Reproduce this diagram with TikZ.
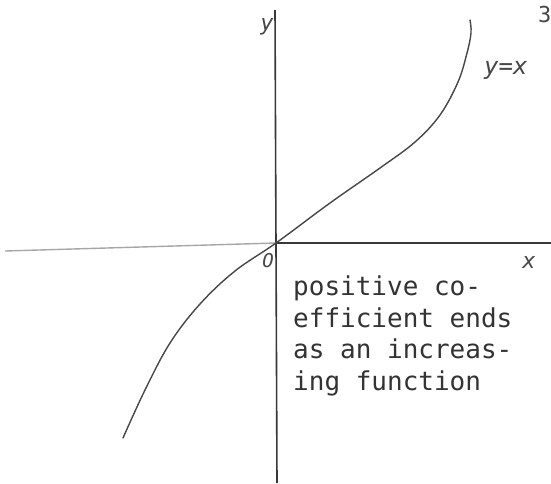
\documentclass[tikz,border=0pt]{standalone}
\usepackage{fontspec}
\newfontfamily\monofont{DejaVu Sans Mono}
\begin{document}
\begin{tikzpicture}[x=1pt,y=-1pt]
\useasboundingbox (0,0) rectangle (551,483);
\tikzset{
  axisline/.style={line width=1.6pt, draw=black!78},
  faintaxis/.style={line width=1.4pt, draw=black!35},
  curveline/.style={line width=1.4pt, draw=black!72, line cap=round},
  lbl/.style={font=\monofont\fontsize{22}{22}\selectfont\itshape, text=black!72, inner sep=0pt},
  note/.style={font=\monofont\fontsize{26}{31.5}\selectfont, text=black!80, inner sep=0pt, align=left}
}
\coordinate (O) at (276,243);
\coordinate (ytop) at (275,10);
\coordinate (ybot) at (277,483);
\coordinate (xleft) at (5,251);
\coordinate (xright) at (551,243);
\draw[axisline] (ytop) -- (ybot);
\draw[faintaxis] (xleft) -- (O);
\draw[axisline] (O) -- (xright);
\draw[curveline] plot[smooth, tension=0.6] coordinates {(123,438) (145,390) (170,343) (200,304) (235,271) (276,243) (330,203) (380,168) (415,142) (440,115) (458,82) (467,53) (471,33) (470,20)};
\node[lbl] (ylab) at (267,27) {y};
\node[lbl, font=\monofont\fontsize{19}{19}\selectfont\itshape] (olab) at (268,261) {O};
\node[lbl] (xlab) at (529,262) {x};
\node[lbl, anchor=base west, font=\monofont\fontsize{24}{24}\selectfont\itshape] (flab) at (484,74) {y=x};
\node[lbl, anchor=base west, font=\monofont\fontsize{22}{22}\selectfont] (fexp) at (538,22) {3};
\node[note, anchor=base west] (txt) at (293,390) {positive co-\\efficient ends\\as an increas-\\ing function};
\end{tikzpicture}
\end{document}
